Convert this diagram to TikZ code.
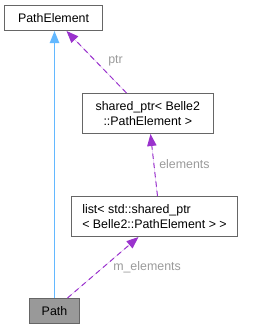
\documentclass[tikz,border=0pt]{standalone}
\usepackage{fontspec}
\setmainfont{Liberation Sans}
\usetikzlibrary{arrows.meta, positioning}
\definecolor{dxborder}{HTML}{666666}
\definecolor{dxgray}{HTML}{999999}
\definecolor{dxblue}{HTML}{63B8FF}
\definecolor{dxpurple}{HTML}{9A32CD}
\definecolor{dxlabel}{HTML}{9A9A9A}

\begin{document}
\begin{tikzpicture}[
  x=0.75pt, y=-0.75pt,
  every node/.style={font=\fontsize{9.3}{11.2}\selectfont},
  cls/.style={draw=dxborder, fill=white, line width=0.75pt, anchor=north west,
              inner xsep=2pt, inner ysep=0pt, minimum height=18.75pt},
  self/.style={cls, fill=dxgray},
  inherit/.style={-{Triangle[length=9pt, width=7pt]}, draw=dxblue, fill=dxblue,
                  line width=1pt},
  member/.style={-{Triangle[length=9pt, width=7pt]}, draw=dxpurple, fill=dxpurple,
                 line width=0.75pt, dash pattern=on 4pt off 3pt},
  elabel/.style={text=dxlabel, inner sep=0pt, anchor=west},
]
\useasboundingbox (0,0) rectangle (253,329);

\node[cls, minimum width=73.5pt]  (elem) at (4,5)   {PathElement};
\node[cls, minimum width=98pt, minimum height=30pt, align=center]
                                  (sptr) at (82,93) {shared\_ptr< Belle2\\::PathElement >};
\node[cls, minimum width=124.5pt, minimum height=30pt, align=left, inner xsep=7.5pt]
                                  (list) at (71,196) {list< std::shared\_ptr\\< Belle2::PathElement > >};
\node[self, minimum width=37.5pt] (path) at (29,298) {Path};

% member labels
\node[elabel] (ptrlbl)   at (108,61)  {ptr};
\node[elabel] (elemslbl) at (159,164) {elements};
\node[elabel] (mlbl)     at (113,267) {m\_elements};

\draw[inherit] (path.north) -- (path.north |- elem.south);
\draw[member] ([xshift=-16pt]sptr.north) -- ([xshift=9.75pt]elem.south);
\draw[member] ([xshift=2.25pt]list.north) -- ([xshift=2pt]sptr.south);
\draw[member] ([xshift=9.75pt]path.north) -- ([xshift=-12pt]list.south);

\end{tikzpicture}
\end{document}
